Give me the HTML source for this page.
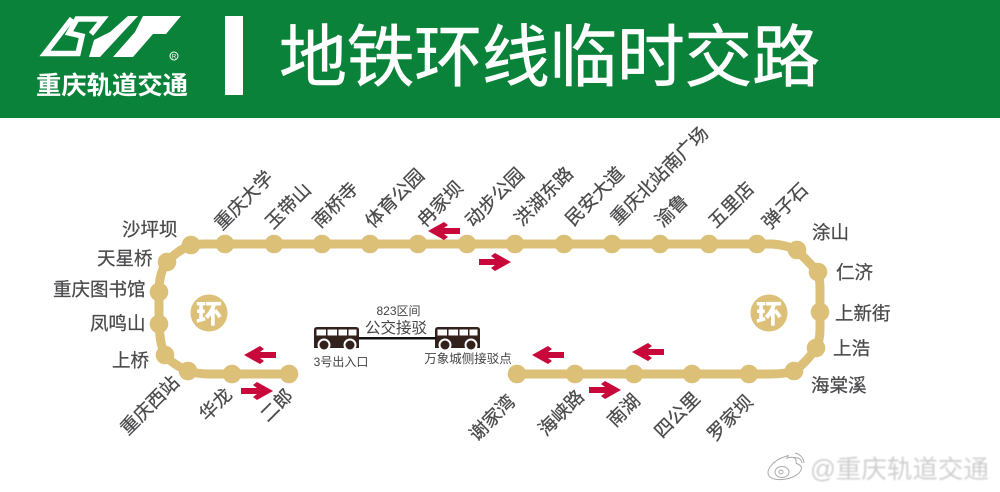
<!DOCTYPE html>
<html><head><meta charset="utf-8"><style>
html,body{margin:0;padding:0;background:#fff}
svg{display:block}
text{font-family:"Liberation Sans","Noto Sans CJK SC",sans-serif}
.l{font-size:18.5px;fill:#4a4a4c;stroke:#4a4a4c;stroke-width:.25px}
.c{text-anchor:middle;fill:#444}
</style></head><body>
<svg width="1000" height="492" viewBox="0 0 1000 492" xmlns="http://www.w3.org/2000/svg">
<defs>
<g id="la"><polygon fill="#c8083a" points="0,0 16,-9 20,-6 16,-3 32,-3 32,3 16,3 20,6 16,9"/></g>
<g id="ra"><polygon fill="#c8083a" points="0,0 -16,-9 -20,-6 -16,-3 -32,-3 -32,3 -16,3 -20,6 -16,9"/></g>
<g id="bus">
<path d="M0,3 Q0,0 3,0 H42 Q45,0 45,3 V21 H0Z" fill="#33211c"/>
<path d="M2.500,2.500 H12 V8.500 H2.500Z M13.500,2.500 H23 V8.500 H13.500Z M24.500,2.500 H33 V8.500 H24.500Z M34.500,2.500 H42.500 V8.500 H34.500Z" fill="#fff"/>
<circle cx="10" cy="18" r="6.500" fill="#fff"/><circle cx="36" cy="18" r="6.500" fill="#fff"/>
<circle cx="10" cy="18" r="4.500" fill="#33211c"/><circle cx="36" cy="18" r="4.500" fill="#33211c"/>
</g>
</defs>
<rect width="1000" height="492" fill="#fff"/>
<rect width="1000" height="118" fill="#0a8239"/>
<rect x="225" y="16" width="18" height="79" fill="#fff"/>
<polyline points="72,18.500 45,53.500 78,53.500 82,36 69,33 77,19 103,19 91,34" fill="none" stroke="#fff" stroke-width="5.500"/>
<polygon fill="#fff" points="128,16 138,16 100,57 89,57 94,40 110,32"/>
<polygon fill="#fff" points="143,16 181,16 166,34 153,34 133,57 113,57 135,32"/>
<circle cx="174" cy="56" r="4" fill="none" stroke="#fff" stroke-width="1"/>
<text x="174" y="58.500" text-anchor="middle" font-size="6" fill="#fff">R</text>
<text x="36" y="94" font-size="25" font-weight="700" fill="#fff" textLength="152" lengthAdjust="spacingAndGlyphs">重庆轨道交通</text>
<text x="279" y="81" font-size="68" font-weight="400" fill="#fff" stroke="#fff" stroke-width=".5" textLength="541" lengthAdjust="spacing">地铁环线临时交路</text>

<path d="M289,374 H210 Q197,374 188,371 Q172,364 165,355 Q160,345 159,324 V292 Q159,272 167,262 Q178,250 191,245 Q196,244 205,244 H772 Q786,245 797,250 L818,272 Q820,278 820,290 V330 Q820,340 816,348 Q806,363 794,371 Q785,374 770,374 H517" fill="none" stroke="#dcc078" stroke-width="9"/>
<g fill="#dcc078">
<circle cx="191" cy="245" r="9.300"/><circle cx="225" cy="244" r="9.300"/><circle cx="274" cy="244" r="9.300"/><circle cx="322" cy="244" r="9.300"/><circle cx="370" cy="244" r="9.300"/><circle cx="418" cy="244" r="9.300"/><circle cx="467" cy="244" r="9.300"/><circle cx="515" cy="244" r="9.300"/><circle cx="564" cy="244" r="9.300"/><circle cx="612" cy="244" r="9.300"/><circle cx="660" cy="244" r="9.300"/><circle cx="709" cy="244" r="9.300"/><circle cx="757" cy="244" r="9.300"/><circle cx="797" cy="250" r="9.300"/><circle cx="818" cy="272" r="9.300"/><circle cx="820" cy="312" r="9.300"/><circle cx="816" cy="348" r="9.300"/><circle cx="794" cy="371" r="9.300"/><circle cx="749" cy="374" r="9.300"/><circle cx="692" cy="374" r="9.300"/><circle cx="634" cy="374" r="9.300"/><circle cx="575" cy="374" r="9.300"/><circle cx="517" cy="374" r="9.300"/>
<circle cx="167" cy="262" r="9.300"/><circle cx="159" cy="292" r="9.300"/><circle cx="159" cy="324" r="9.300"/><circle cx="165" cy="355" r="9.300"/><circle cx="188" cy="371" r="9.300"/><circle cx="232" cy="374" r="9.300"/><circle cx="289" cy="374" r="9.300"/>
<circle cx="209" cy="313" r="18.500"/><circle cx="769" cy="313" r="18.500"/>
</g>
<text x="209" y="323" text-anchor="middle" font-size="26" font-weight="900" fill="#fff">环</text>
<text x="769" y="323" text-anchor="middle" font-size="26" font-weight="900" fill="#fff">环</text>

<use href="#la" x="428" y="231"/><use href="#ra" x="511" y="262"/><use href="#la" x="244" y="355"/><use href="#ra" x="273" y="391"/><use href="#la" x="532" y="355"/><use href="#la" x="632" y="352"/><use href="#ra" x="621" y="390"/>

<text class="l" x="122" y="236">沙坪坝</text>
<text class="l" x="97" y="265">天星桥</text>
<text class="l" x="53" y="296">重庆图书馆</text>
<text class="l" x="90" y="330">凤鸣山</text>
<text class="l" x="112" y="367">上桥</text>
<text class="l" x="812" y="239">涂山</text>
<text class="l" x="836" y="279">仁济</text>
<text class="l" x="835" y="320">上新街</text>
<text class="l" x="833" y="355">上浩</text>
<text class="l" x="811" y="392">海棠溪</text>
<g transform="translate(-3,-1)">
<text class="l" transform="translate(225,232) rotate(-45)">重庆大学</text>
<text class="l" transform="translate(276,231) rotate(-45)">玉带山</text>
<text class="l" transform="translate(323,230) rotate(-45)">南桥寺</text>
<text class="l" transform="translate(376,230) rotate(-45)">体育公园</text>
<text class="l" transform="translate(428,229) rotate(-45)">冉家坝</text>
<text class="l" transform="translate(476,229) rotate(-45)">动步公园</text>
<text class="l" transform="translate(525,228) rotate(-45)">洪湖东路</text>
<text class="l" transform="translate(576,228) rotate(-45)">民安大道</text>
<text class="l" transform="translate(621,227) rotate(-45)">重庆北站南广场</text>
<text class="l" transform="translate(666,229) rotate(-45)">渝鲁</text>
<text class="l" transform="translate(719,230) rotate(-45)">五里店</text>
<text class="l" transform="translate(773,231) rotate(-45)">弹子石</text>
<text class="l" transform="translate(131,437) rotate(-45)">重庆西站</text>
<text class="l" transform="translate(210,423) rotate(-45)">华龙</text>
<text class="l" transform="translate(271,424) rotate(-45)">二郎</text>
<text class="l" transform="translate(480,443) rotate(-45)">谢家湾</text>
<text class="l" transform="translate(549,438) rotate(-45)">海峡路</text>
<text class="l" transform="translate(618,429) rotate(-45)">南湖</text>
<text class="l" transform="translate(665,440) rotate(-45)">四公里</text>
<text class="l" transform="translate(718,443) rotate(-45)">罗家坝</text>
</g>

<use href="#bus" x="314" y="327"/><use href="#bus" x="435" y="327"/>
<rect x="359" y="337" width="77" height="2.500" fill="#111"/>
<text class="c" x="398.500" y="315" font-size="12">823区间</text>
<text class="c" x="396" y="333" font-size="15.500">公交接驳</text>
<text class="c" x="341" y="366" font-size="12">3号出入口</text>
<text class="c" x="468" y="363" font-size="12.500">万象城侧接驳点</text>

<g fill="none" stroke="#aaa" stroke-width="1">
<path d="M787,456 C772,460 764,472 770,477 C778,483 798,478 801,470 C803,465 797,464 796,463 C797,458 793,456 787,458 C789,455 788,455 787,456Z"/>
<ellipse cx="782" cy="472" rx="7" ry="5.500"/><circle cx="781" cy="472" r="2"/>
<path d="M794,458 A6,6 0 0 1 802,463 M795,453 A11,11 0 0 1 804,463"/>
</g>
<text x="810" y="478" font-size="25.500" fill="#cfcfcf" style="filter:blur(.8px)">@重庆轨道交通</text>
</svg>
</body></html>
